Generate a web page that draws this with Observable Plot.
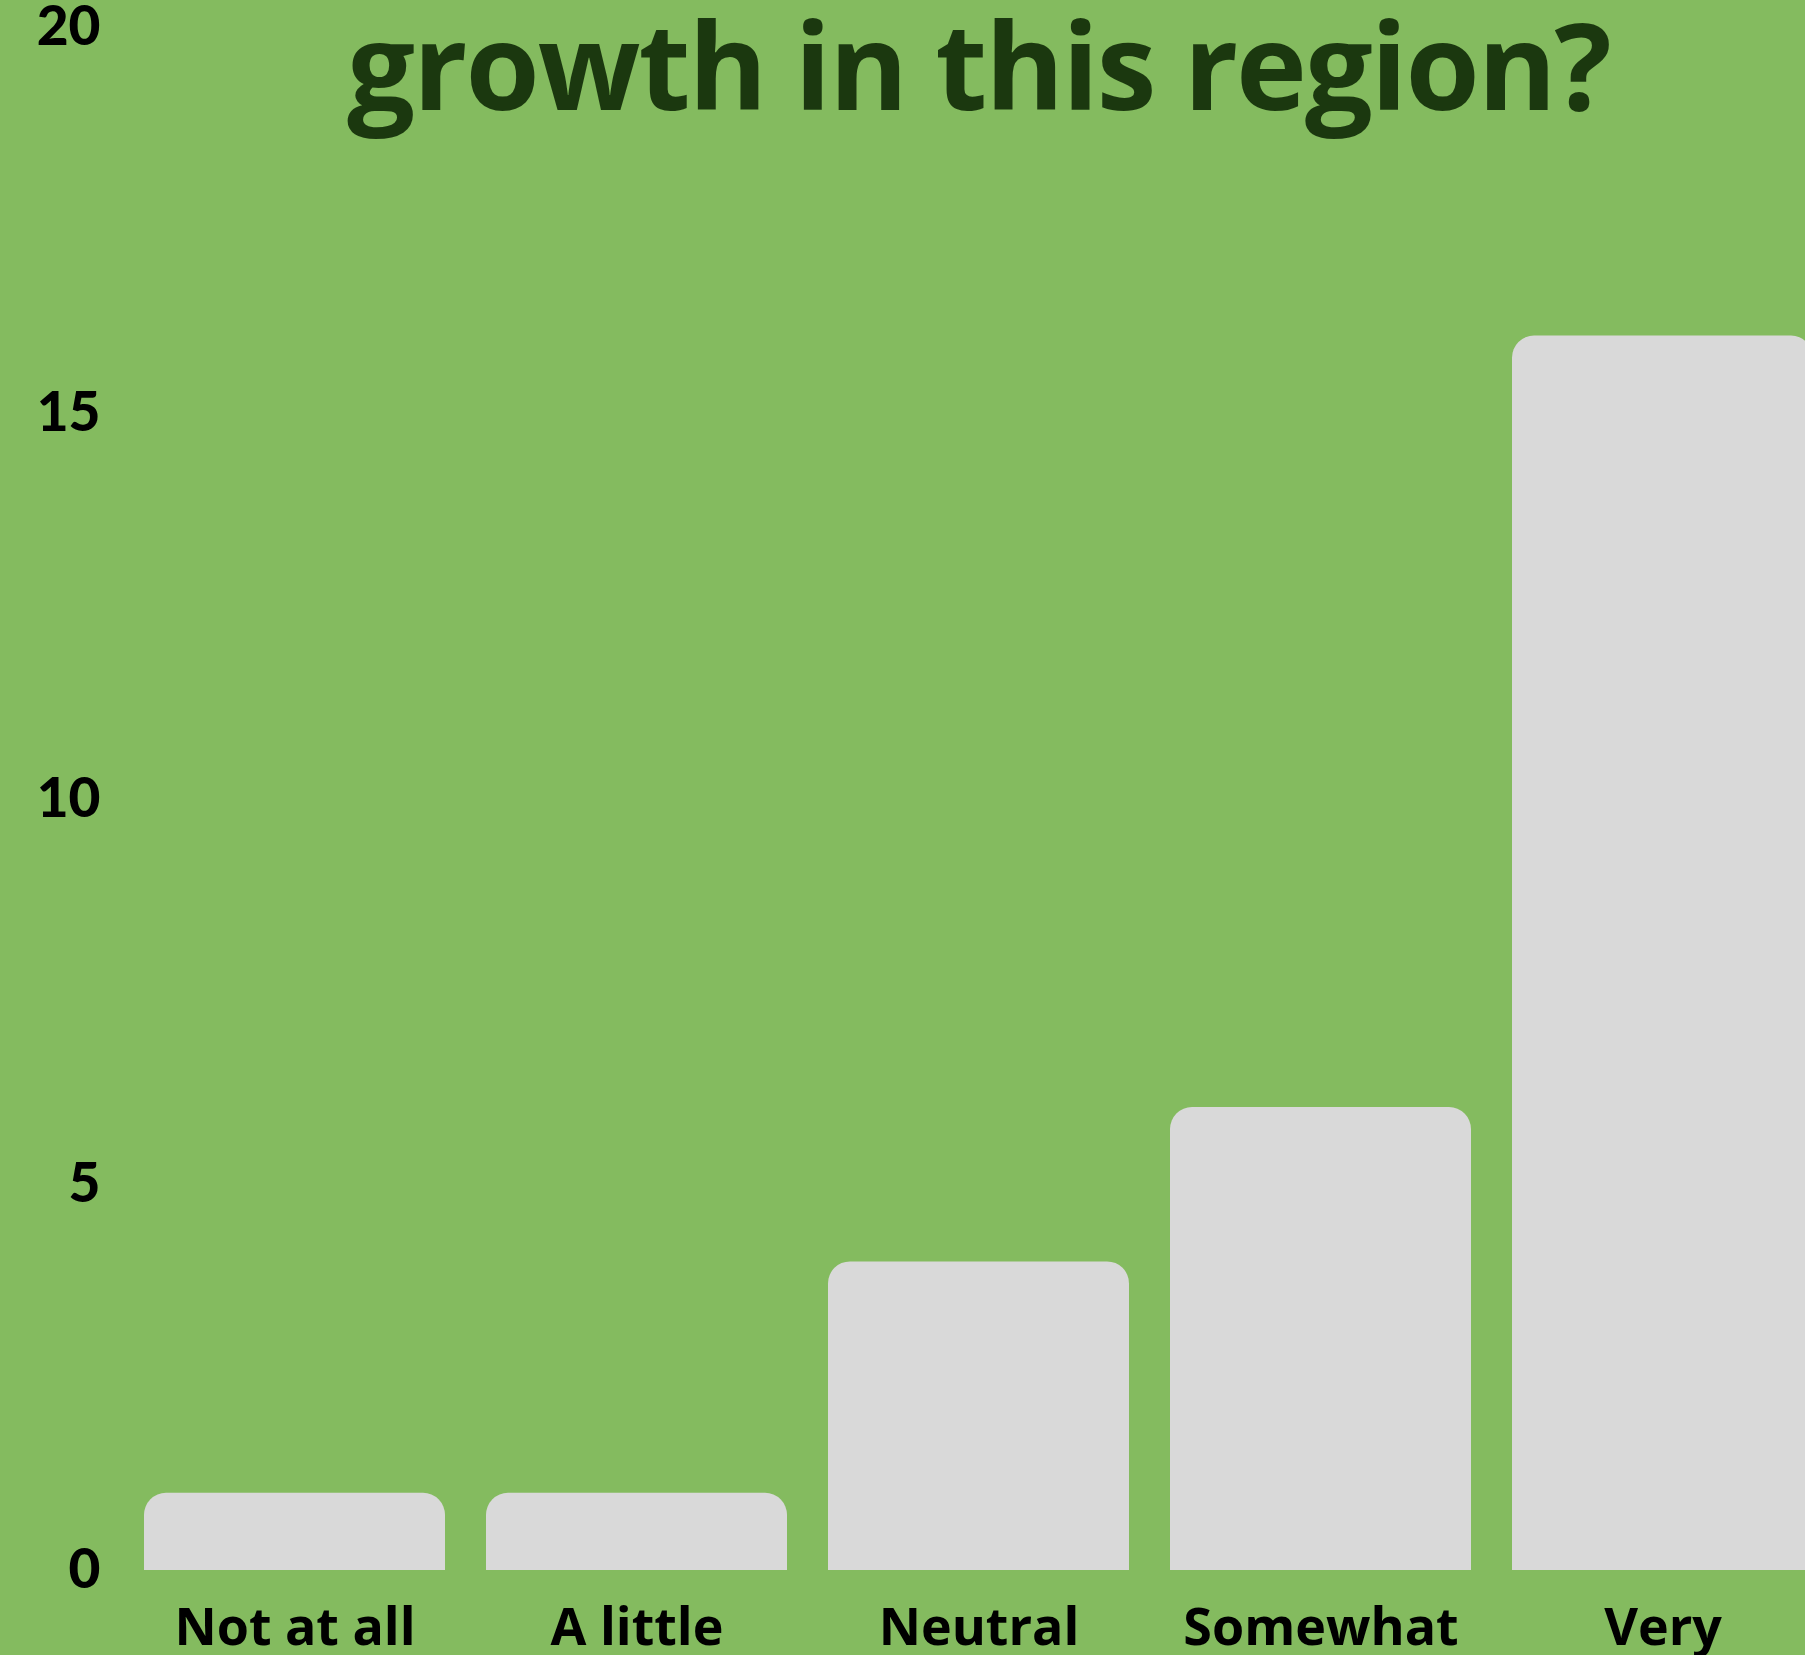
<!DOCTYPE html>
<html>
<head>
<meta charset="utf-8">
<script src="https://cdn.jsdelivr.net/npm/d3@7"></script>
<script src="https://cdn.jsdelivr.net/npm/@observablehq/plot@0.6"></script>
<style>
  html, body { margin: 0; padding: 0; background: #84bb5f; overflow: hidden; }
  #wrap { position: relative; width: 1805px; height: 1655px; }
  #title { position: absolute; left: 0; width: 1957px; top: 4px; text-align: center;
    font-family: "Open Sans", sans-serif; font-weight: 700; font-size: 120px; color: #1b380f;
    line-height: 1; letter-spacing: -2px; white-space: nowrap; }
  svg { display: block; }
</style>
</head>
<body>
<div id="wrap">
  <div id="chart"></div>
  <div id="title">growth in this region?</div>
</div>
<script>
const categories = ["Not at all", "A little", "Neutral", "Somewhat", "Very"];
const values = [1, 1, 4, 6, 16];
const yTicks = [0, 5, 10, 15, 20];

const data = categories.map((c, i) => ({category: c, value: values[i]}));

const plot = Plot.plot({
  width: 1805,
  height: 1655,
  marginTop: 27,
  marginBottom: 85,
  marginLeft: 120,
  marginRight: 0,
  style: {background: "#84bb5f", color: "#000", overflow: "hidden"},
  x: {domain: categories, range: [143.3, 1813.9], paddingInner: 0.121, paddingOuter: 0, label: null},
  y: {domain: [0, 20], label: null},
  marks: [
    Plot.barY(data, {x: "category", y: "value", fill: "#d9d9d9", rx: 22, ry: 22}),
    Plot.barY(data, {x: "category", y: d => d.value / 2, fill: "#d9d9d9"}),
    Plot.axisY({ticks: yTicks, tickSize: 0, tickPadding: 20, fontSize: 55,
      fontFamily: "Lato, sans-serif", fontWeight: 900, fill: "#000", label: null}),
    Plot.axisX({tickSize: 0, tickPadding: 38, fontSize: 52,
      fontFamily: "Open Sans, sans-serif", fontWeight: 700, fill: "#000", label: null})
  ]
});
document.getElementById("chart").appendChild(plot);
</script>
</body>
</html>
